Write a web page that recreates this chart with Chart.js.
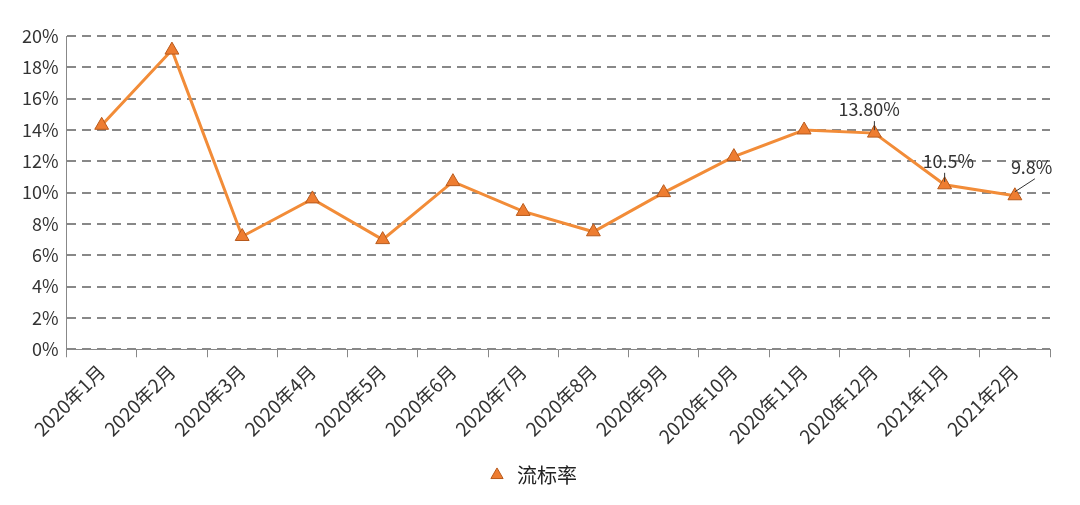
<!DOCTYPE html>
<html>
<head>
<meta charset="utf-8">
<script src="https://cdn.jsdelivr.net/npm/chart.js@4/dist/chart.umd.min.js"></script>
<style>
  html, body { margin: 0; padding: 0; background: #fff; }
  #wrap { width: 1080px; height: 505px; }
</style>
</head>
<body>
<div id="wrap"><canvas id="chart"></canvas></div>
<script>
const labels = ['2020年1月', '2020年2月', '2020年3月', '2020年4月', '2020年5月', '2020年6月', '2020年7月',
  '2020年8月', '2020年9月', '2020年10月', '2020年11月', '2020年12月', '2021年1月', '2021年2月'];
const liubiao = [14.3, 19.1, 7.2, 9.6, 7.0, 10.7, 8.8, 7.5, 10.0, 12.3, 14.0, 13.8, 10.5, 9.8];

// labels written on a few points: [index, text, dx, dy]
const notes = [[11, '13.80%', -36, -24], [12, '10.5%', -22, -24], [13, '9.8%', -4, -29]];

const notePlugin = {
  id: 'notes',
  afterDatasetsDraw(chart) {
    const ctx = chart.ctx;
    const x = chart.scales.x, y = chart.scales.y;
    ctx.save();
    ctx.font = '18px "Noto Sans CJK SC", sans-serif';
    ctx.fillStyle = '#333';
    ctx.strokeStyle = '#333';
    ctx.lineWidth = 1;
    notes.forEach(([i, t, dx, dy]) => {
      const px = x.getPixelForValue(i), py = y.getPixelForValue(liubiao[i]);
      ctx.textBaseline = 'middle';
      ctx.fillText(t, px + dx, py + dy);
      ctx.beginPath();
      if (i === 13) { ctx.moveTo(px + 20, py - 17); ctx.lineTo(px, py - 4); }
      else { ctx.moveTo(px, py - 12); ctx.lineTo(px, py - 3); }
      ctx.stroke();
    });
    ctx.restore();
  }
};

const data = {
  labels: labels,
  datasets: [{
    label: '流标率',
    data: liubiao,
    borderColor: '#f28c38',
    backgroundColor: '#ee7d31',
    borderWidth: 3,
    pointStyle: 'triangle',
    pointRadius: 8,
    pointBorderColor: '#b85a1c',
    pointBorderWidth: 1,
    tension: 0
  }]
};

const config = {
  type: 'line',
  data: data,
  plugins: [notePlugin],
  options: {
    responsive: true,
    maintainAspectRatio: false,
    animation: false,
    layout: { padding: { left: 14, right: 30, top: 36, bottom: 10 } },
    plugins: {
      legend: {
        position: 'bottom',
        labels: {
          usePointStyle: true,
          boxHeight: 10,
          padding: 14,
          font: { size: 20, family: '"Noto Sans CJK SC", sans-serif' },
          color: '#222'
        }
      },
      tooltip: { enabled: false }
    },
    scales: {
      x: {
        offset: true,
        grid: { offset: true, drawOnChartArea: false, drawTicks: true, tickLength: 8, color: '#888' },
        border: { color: '#888' },
        ticks: {
          maxRotation: 45, minRotation: 45,
          font: { size: 19, family: '"Noto Sans CJK SC", sans-serif' },
          color: '#333'
        }
      },
      y: {
        min: 0, max: 20,
        border: { color: '#888', dash: [9, 6] },
        grid: { color: '#888', lineWidth: 2, drawTicks: false },
        ticks: {
          stepSize: 2,
          padding: 8,
          callback: v => v + '%',
          font: { size: 18, family: '"Noto Sans CJK SC", sans-serif' },
          color: '#333'
        }
      }
    }
  }
};

window.addEventListener('DOMContentLoaded', () => {
  const ctx = document.getElementById('chart').getContext('2d');
  new Chart(ctx, config);
});
</script>
</body>
</html>
